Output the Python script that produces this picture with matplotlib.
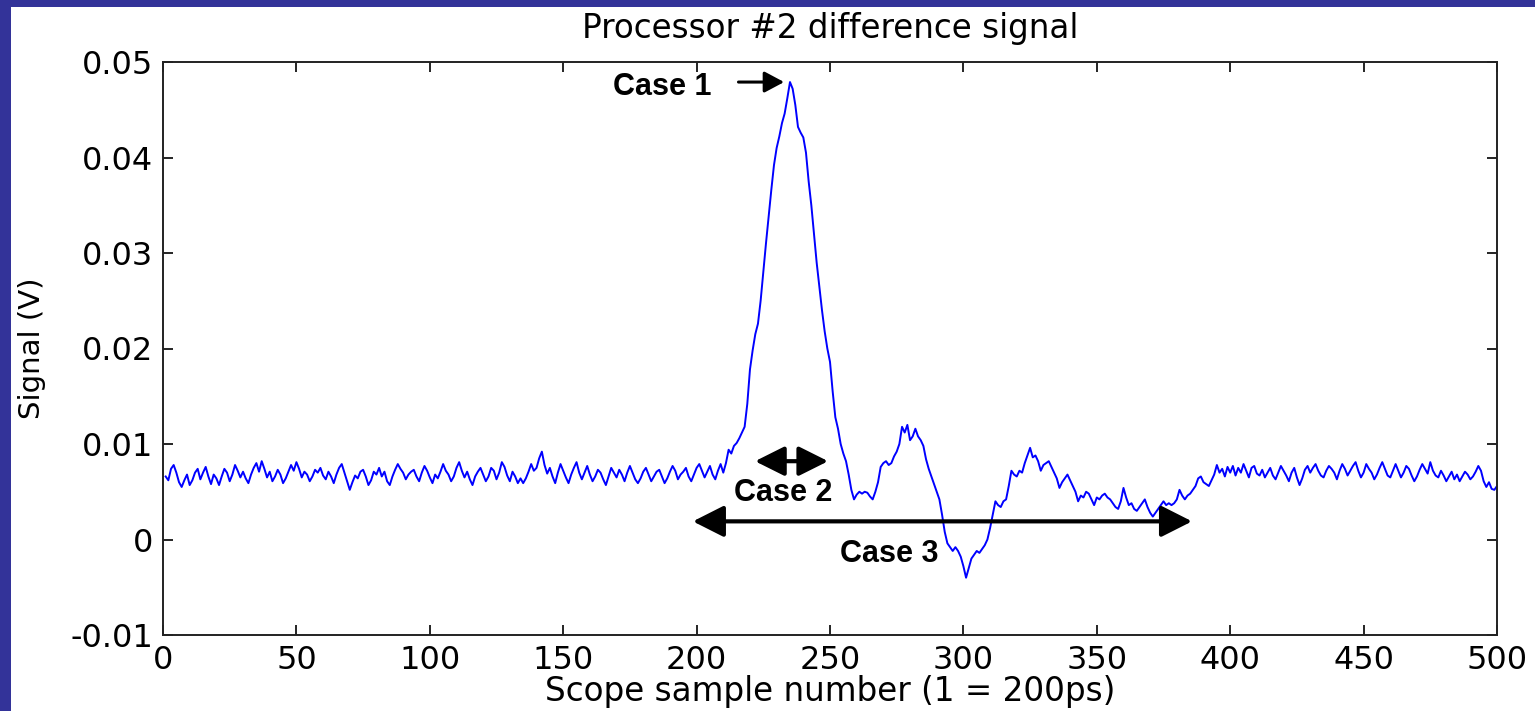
import numpy as np
import matplotlib
matplotlib.use("Agg")
import matplotlib.pyplot as plt
from matplotlib.patches import Rectangle

# difference signal, in units of 0.1 mV, one value per scope sample (1..500)
signal_e4 = [
    66, 62, 74, 78, 70, 60, 55, 62, 68, 57,
    62, 70, 74, 63, 70, 76, 66, 58, 68, 64,
    57, 66, 74, 70, 61, 68, 78, 72, 65, 71,
    64, 59, 68, 75, 80, 71, 82, 74, 65, 71,
    61, 66, 73, 68, 59, 64, 71, 78, 72, 81,
    74, 65, 71, 68, 61, 66, 73, 70, 75, 67,
    63, 71, 66, 59, 68, 75, 79, 70, 61, 52,
    60, 67, 64, 71, 73, 66, 57, 62, 71, 68,
    75, 66, 71, 61, 57, 66, 73, 79, 74, 70,
    63, 68, 71, 73, 66, 61, 70, 77, 72, 65,
    59, 68, 64, 71, 79, 72, 68, 61, 66, 75,
    81, 72, 65, 71, 63, 57, 66, 71, 75, 68,
    61, 66, 75, 72, 63, 70, 81, 76, 67, 61,
    71, 66, 59, 64, 59, 64, 71, 79, 72, 75,
    85, 92, 78, 69, 75, 66, 59, 70, 79, 72,
    65, 59, 68, 75, 81, 70, 63, 70, 77, 68,
    61, 66, 73, 70, 63, 57, 66, 75, 70, 65,
    73, 68, 61, 70, 77, 70, 63, 59, 64, 71,
    75, 68, 61, 66, 71, 73, 66, 59, 64, 71,
    77, 72, 63, 68, 71, 75, 66, 61, 68, 75,
    79, 72, 65, 71, 77, 68, 63, 72, 79, 70,
    80, 94, 90, 98, 101, 106, 112, 118, 142, 178,
    198, 215, 226, 250, 280, 310, 338, 366, 392, 410,
    422, 436, 446, 462, 479, 472, 455, 432, 426, 421,
    405, 375, 350, 320, 290, 265, 240, 218, 200, 186,
    155, 128, 116, 100, 90, 82, 68, 52, 42, 47,
    50, 48, 50, 49, 45, 42, 50, 60, 76, 80,
    82, 78, 80, 87, 92, 100, 118, 112, 120, 104,
    108, 116, 108, 104, 98, 84, 74, 66, 58, 50,
    42, 26, 8, -4, -8, -12, -8, -12, -18, -28,
    -40, -30, -20, -16, -12, -14, -10, -6, 0, 12,
    26, 40, 36, 34, 40, 42, 56, 72, 68, 66,
    72, 70, 80, 88, 96, 86, 88, 82, 72, 78,
    80, 82, 76, 70, 64, 54, 60, 64, 68, 62,
    56, 50, 40, 46, 44, 50, 48, 42, 36, 44,
    42, 46, 48, 44, 42, 38, 34, 32, 40, 54,
    44, 36, 38, 32, 30, 34, 38, 42, 34, 28,
    24, 28, 32, 36, 40, 36, 38, 36, 38, 42,
    52, 46, 42, 46, 48, 52, 56, 64, 66, 60,
    58, 56, 62, 68, 78, 70, 74, 66, 76, 70,
    77, 67, 75, 70, 79, 72, 65, 75, 77, 69,
    67, 73, 65, 70, 75, 67, 63, 70, 77, 72,
    67, 61, 70, 75, 65, 57, 64, 73, 77, 70,
    75, 79, 72, 67, 65, 72, 77, 74, 70, 63,
    72, 79, 74, 67, 72, 77, 81, 72, 65, 70,
    79, 74, 70, 63, 68, 75, 81, 74, 67, 65,
    72, 79, 72, 65, 70, 77, 74, 67, 61, 66,
    73, 79, 74, 69, 81, 72, 67, 65, 72, 67,
    61, 66, 71, 63, 68, 61, 66, 71, 68, 63,
    66, 71, 77, 72, 61, 55, 60, 53, 52, 56,
]

samples = np.arange(1, len(signal_e4) + 1)
signal = np.array(signal_e4) * 1e-4

x_ticks = [0, 50, 100, 150, 200, 250, 300, 350, 400, 450, 500]
y_ticks = [-0.01, 0, 0.01, 0.02, 0.03, 0.04, 0.05]
y_tick_labels = ["-0.01", "0", "0.01", "0.02", "0.03", "0.04", "0.05"]

W, H = 1535, 711
fig = plt.figure(figsize=(W / 100, H / 100), dpi=100)
fig.patch.set_facecolor("white")

# slide frame: bar on the left and along the top
frame = "#333399"
fig.patches.append(Rectangle((0, 0), 11 / W, 1, transform=fig.transFigure,
                             facecolor=frame, edgecolor="none"))
fig.patches.append(Rectangle((0, 1 - 7 / H), 1, 7 / H, transform=fig.transFigure,
                             facecolor=frame, edgecolor="none"))

ax = fig.add_axes([163 / W, 76 / H, 1334 / W, 573 / H])
ax.plot(samples, signal, color="#0000ff", lw=1.4)

ax.set_xlim(0, 500)
ax.set_ylim(-0.01, 0.05)
ax.set_xticks(x_ticks)
ax.set_yticks(y_ticks)
ax.set_yticklabels(y_tick_labels)
ax.tick_params(direction="in", length=7, width=1.2, top=True, right=True,
               labelsize=23, pad=7)
for sp in ax.spines.values():
    sp.set_linewidth(1.4)
    sp.set_color("#222222")

ax.set_title("Processor #2 difference signal", fontsize=23.5, pad=17)
ax.set_xlabel("Scope sample number (1 = 200ps)", fontsize=23.5)
ax.set_ylabel("Signal (V)", fontsize=21)
ax.xaxis.set_label_coords(0.5, -0.07)
ax.yaxis.set_label_coords(-0.088, 0.5)

# case markers
bold = dict(family="Liberation Sans", fontweight="bold", fontsize=22)

ax.annotate("", xy=(232.8, 0.0479), xytext=(215.7, 0.0479),
            arrowprops=dict(arrowstyle="-|>,head_length=0.6,head_width=0.32",
                            mutation_scale=20, lw=2.2, color="black",
                            shrinkA=0, shrinkB=0))
ax.text(187.0, 0.0465, "Case 1", ha="center", va="baseline", **bold)

ax.annotate("", xy=(249.3, 0.0082), xytext=(221.9, 0.0082),
            arrowprops=dict(arrowstyle="<|-|>,head_length=0.9,head_width=0.45",
                            mutation_scale=20, lw=3, color="black",
                            shrinkA=0, shrinkB=0))
ax.text(232.4, 0.0040, "Case 2", ha="center", va="baseline", **bold)

ax.annotate("", xy=(385.7, 0.0019), xytext=(198.6, 0.0019),
            arrowprops=dict(arrowstyle="<|-|>,head_length=0.95,head_width=0.48",
                            mutation_scale=20, lw=3, color="black",
                            shrinkA=0, shrinkB=0))
ax.text(272.1, -0.0024, "Case 3", ha="center", va="baseline", **bold)

fig.savefig("out.png", dpi=100)
